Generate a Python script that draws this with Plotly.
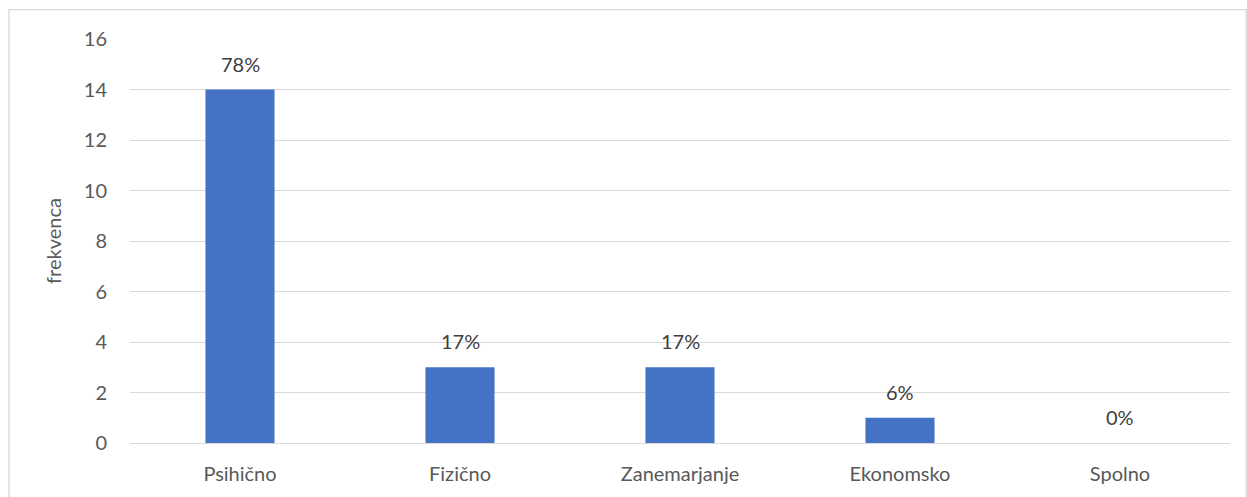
import plotly.graph_objects as go

categories = ["Psihično", "Fizično", "Zanemarjanje", "Ekonomsko", "Spolno"]
frequencies = [14, 3, 3, 1, 0]
percent_labels = ["78%", "17%", "17%", "6%", "0%"]
y_ticks = [0, 2, 4, 6, 8, 10, 12, 14, 16]

W, H = 1247, 497
L, R, T, B = 130, 17, 39, 53.5
pw = W - L - R
ph = H - T - B

font_fam = "Lato, 'Open Sans', sans-serif"
txt_col = "#595959"
FS = 20

fig = go.Figure(
    go.Bar(
        x=categories,
        y=frequencies,
        marker=dict(color="#4472C4", line=dict(width=0)),
        width=0.314,
        hoverinfo="x+y",
    )
)

for c, v, t in zip(categories, frequencies, percent_labels):
    fig.add_annotation(
        x=c, y=v, text=t, showarrow=False,
        yanchor="bottom", yshift=12,
        font=dict(family=font_fam, size=FS, color="#404040"),
    )

fig.update_layout(
    width=W,
    height=H,
    margin=dict(l=L, r=R, t=T, b=B, pad=0),
    paper_bgcolor="white",
    plot_bgcolor="white",
    showlegend=False,
    font=dict(family=font_fam, size=FS, color=txt_col),
)

fig.update_xaxes(
    showgrid=False,
    showline=False,
    zeroline=False,
    ticks="",
    ticklabelstandoff=17,
    tickfont=dict(family=font_fam, size=FS, color=txt_col),
)
fig.update_yaxes(
    range=[0, 16],
    tickvals=y_ticks,
    showgrid=True,
    gridcolor="#d9d9d9",
    gridwidth=1,
    zeroline=True,
    zerolinecolor="#d9d9d9",
    zerolinewidth=1,
    showline=False,
    ticks="",
    ticklabelstandoff=22,
    tickfont=dict(family=font_fam, size=FS, color=txt_col),
    title=dict(text="frekvenca", font=dict(family=font_fam, size=FS, color=txt_col), standoff=16),
)

# outer chart border
fig.add_shape(
    type="rect",
    xref="paper",
    yref="paper",
    x0=(9 - L) / pw,
    x1=(1246 - L) / pw,
    y0=-0.3,
    y1=(H - B - 9.5) / ph,
    line=dict(color="#d9d9d9", width=1.3),
    fillcolor="rgba(0,0,0,0)",
    layer="below",
)

fig.write_html(
    "out.html",
    config={"displayModeBar": False},
    post_script="document.body.style.margin='0';document.body.style.overflow='hidden';",
)
